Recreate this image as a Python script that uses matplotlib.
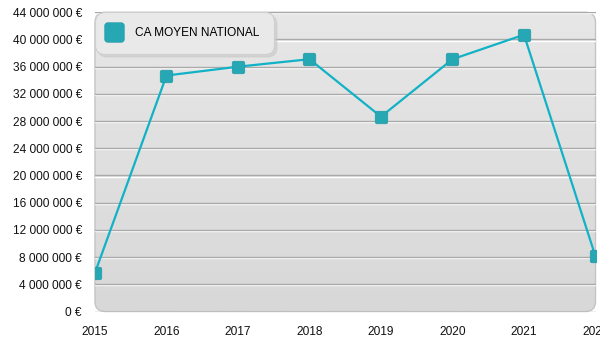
import numpy as np
import matplotlib
matplotlib.use("Agg")
import matplotlib.pyplot as plt
from matplotlib.patches import FancyBboxPatch, BoxStyle
from matplotlib.lines import Line2D
from matplotlib.ticker import FuncFormatter
import matplotlib.patheffects as pe

plt.rcParams["font.family"] = ["Liberation Sans", "DejaVu Sans"]

years = [2015, 2016, 2017, 2018, 2019, 2020, 2021, 2022]
ca_moyen = [5.7e6, 34.7e6, 36.0e6, 37.1e6, 28.65e6, 37.1e6, 40.7e6, 8.1e6]
y_ticks = np.arange(0, 44e6 + 1, 4e6)
series_label = "CA MOYEN NATIONAL"

line_color = "#12b2c6"
marker_color = "#26a8b4"

fig = plt.figure(figsize=(6, 3.5), dpi=100)
ax = fig.add_axes([0.1583, 0.11, 0.8342, 0.8549])
ax.patch.set_visible(False)
for s in ax.spines.values():
    s.set_visible(False)

# rounded plot area, light grey on top fading darker towards the bottom
pos = ax.get_position()
W, H = fig.get_size_inches()
frame = FancyBboxPatch((pos.x0 * W, pos.y0 * H), pos.width * W, pos.height * H,
                       boxstyle="round,pad=0,rounding_size=0.1",
                       transform=fig.dpi_scale_trans, facecolor="none",
                       edgecolor="#c4c4c4", linewidth=1, zorder=0.2, clip_on=False)
ax.add_patch(frame)
grad = np.linspace(0, 1, 256).reshape(-1, 1)
img = ax.imshow(grad, cmap=matplotlib.colors.LinearSegmentedColormap.from_list(
    "bg", ["#e7e7e7", "#d8d8d8"]), aspect="auto", extent=(0, 1, 0, 1),
    origin="upper", transform=ax.transAxes, zorder=0.1)
img.set_clip_path(frame)

# rounded square marker
rsq = BoxStyle.Round(pad=0, rounding_size=0.3)(-1, -1, 2, 2, 1.0)

ax.plot(years, ca_moyen, color=line_color, linewidth=1.6, marker=rsq,
        markersize=9, markerfacecolor=marker_color, markeredgecolor="#1f9aa6",
        markeredgewidth=0.5, zorder=3)

ax.set_xlim(2015, 2022)
ax.set_ylim(0, 44e6)
ax.set_xticks(years)
ax.set_yticks(y_ticks)
ax.yaxis.set_major_formatter(FuncFormatter(lambda v, p: f"{v:,.0f}".replace(",", " ") + " €"))
ax.tick_params(length=0, labelsize=8.6, colors="#111111")
ax.tick_params(axis="y", pad=9.4)
ax.tick_params(axis="x", pad=10.5)
ax.xaxis.grid(False)
ax.yaxis.grid(True, color="#a9a9a9", linewidth=1,
              path_effects=[pe.SimpleLineShadow(offset=(0, -0.8), shadow_color="white", alpha=1),
                            pe.Normal()])
ax.set_axisbelow(True)

# legend marker kept centred on the label text
handle = Line2D([], [], linestyle="none", marker=rsq, markersize=14,
                markerfacecolor=marker_color, markeredgecolor="#1f9aa6", markeredgewidth=0.5)
leg = ax.legend([handle], [series_label], loc="upper left", bbox_to_anchor=(0, 1),
                borderaxespad=0, fontsize=8.6, handlelength=0.67, handleheight=0.7,
                handletextpad=1.42, borderpad=1.25, fancybox=True, framealpha=1,
                facecolor="#e9e9e9", edgecolor="#cfcfcf",
                shadow={"color": "#c8c8c8", "alpha": 0.6})
leg.get_frame().set_linewidth(0.8)
leg.get_frame().set_boxstyle("round,pad=0,rounding_size=0.8")
leg.set_zorder(5)

fig.savefig("out.png", dpi=100)
